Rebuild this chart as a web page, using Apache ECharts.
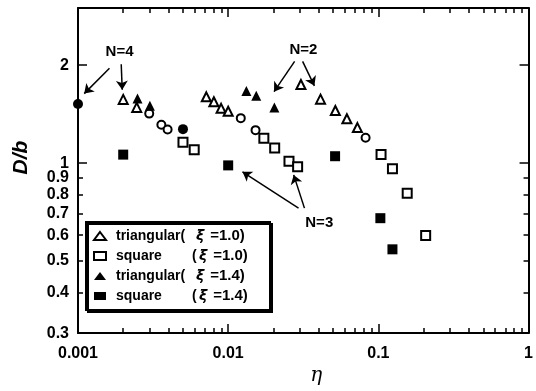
<!DOCTYPE html>
<html>
<head>
<meta charset="utf-8">
<script src="https://cdn.jsdelivr.net/npm/echarts@6/dist/echarts.min.js"></script>
<style>html,body{margin:0;padding:0;background:#fff}#c{width:536px;height:391px}</style>
</head>
<body>
<div id="c"></div>
<script>
// ---- data ----
const triOpenX = [0.002, 0.00246, 0.00715, 0.00803, 0.00897, 0.0100, 0.0305, 0.0412, 0.0517, 0.0617, 0.0725];
const triOpenY = [1.570, 1.484, 1.599, 1.544, 1.474, 1.444, 1.745, 1.573, 1.451, 1.369, 1.286];
const sqOpenX = [0.005, 0.00594, 0.01728, 0.0204, 0.0254, 0.0290, 0.1042, 0.1241, 0.1556, 0.2065];
const sqOpenY = [1.159, 1.100, 1.192, 1.112, 1.014, 0.975, 1.062, 0.961, 0.808, 0.599];
const triFillX = [0.00249, 0.00301, 0.01322, 0.01538, 0.0203];
const triFillY = [1.580, 1.502, 1.667, 1.610, 1.484];
const sqFillX = [0.002, 0.0100, 0.0515, 0.1031, 0.1241];
const sqFillY = [1.062, 0.984, 1.050, 0.677, 0.543];
const circOpenX = [0.00298, 0.00359, 0.00395, 0.01213, 0.01521, 0.0822];
const circOpenY = [1.420, 1.313, 1.268, 1.375, 1.263, 1.197];
const circFillX = [0.001, 0.005];
const circFillY = [1.52, 1.272];

const seriesNames = ['triangular (ξ=1.0)', 'square (ξ=1.0)', 'triangular (ξ=1.4)', 'square (ξ=1.4)'];

// tick values
const xMajorTicks = [0.001, 0.01, 0.1, 1];
const xMinorTicks = [0.002,0.003,0.004,0.005,0.006,0.007,0.008,0.009,
                     0.02,0.03,0.04,0.05,0.06,0.07,0.08,0.09,
                     0.2,0.3,0.4,0.5,0.6,0.7,0.8,0.9];
const yTickLabels = [0.3, 0.4, 0.5, 0.6, 0.7, 0.8, 0.9, 1, 2];
const yMajorTicks = [1, 2];
const yMinorTicks = [0.4, 0.5, 0.6, 0.7, 0.8, 0.9];

// annotations (data coordinates)
const annoTexts = [
  {text: 'N=4', at: [0.00189, 2.204]},
  {text: 'N=2', at: [0.0317, 2.234]},
  {text: 'N=3', at: [0.0404, 0.655]}
];
const annoArrows = [
  [[0.00162, 1.959], [0.00110, 1.636]],
  [[0.00194, 2.014], [0.00197, 1.682]],
  [[0.0277, 2.056], [0.0202, 1.659]],
  [[0.0313, 2.056], [0.0375, 1.729]],
  [[0.0322, 0.727], [0.0273, 0.920]],
  [[0.0294, 0.727], [0.01245, 0.940]]
];

const zip = (xs, ys) => xs.map((x, i) => [x, ys[i]]);
const FONT = 'Liberation Sans';

const chart = echarts.init(document.getElementById('c'), null, {renderer: 'canvas'});

function xAxisDef(pos, ticks, len, showLine, showLabel) {
  return {
    type: 'log', min: 0.001, max: 1, position: pos,
    axisLine: {show: showLine, lineStyle: {color: '#000', width: 2, opacity: 1}},
    axisTick: {show: true, inside: true, length: len, customValues: ticks, lineStyle: {color: '#000', width: 1.5}},
    axisLabel: showLabel ? {show: true, customValues: xMajorTicks, color: '#000', fontFamily: FONT, fontWeight: 'bold', fontSize: 16, margin: 12,
      formatter: v => String(+(+v).toPrecision(3))} : {show: false},
    splitLine: {show: false}, minorTick: {show: false}
  };
}
function yAxisDef(pos, ticks, len, showLine, showLabel) {
  return {
    type: 'log', min: 0.3, max: 3, position: pos,
    axisLine: {show: showLine, lineStyle: {color: '#000', width: 2, opacity: 1}},
    axisTick: {show: true, inside: true, length: len, customValues: ticks, lineStyle: {color: '#000', width: 1.5}},
    axisLabel: showLabel ? {show: true, customValues: yTickLabels, color: '#000', fontFamily: FONT, fontWeight: 'bold', fontSize: 16, margin: 9,
      formatter: v => String(+(+v).toPrecision(3))} : {show: false},
    splitLine: {show: false}, minorTick: {show: false}
  };
}

const xAxes = [
  xAxisDef('bottom', xMajorTicks, 9, true, true),
  xAxisDef('bottom', xMinorTicks, 5, false, false),
  xAxisDef('top', xMajorTicks, 9, true, false),
  xAxisDef('top', xMinorTicks, 5, false, false)
];
Object.assign(xAxes[0], {name: 'η', nameLocation: 'middle', nameGap: 30,
  nameTextStyle: {fontFamily: 'DejaVu Serif', fontStyle: 'italic', fontSize: 20, color: '#000', padding: [0, 0, 0, 26]}});
const yAxes = [
  yAxisDef('left', yMajorTicks, 9, true, true),
  yAxisDef('left', yMinorTicks, 5, false, false),
  yAxisDef('right', yMajorTicks, 9, true, false),
  yAxisDef('right', yMinorTicks, 5, false, false)
];
Object.assign(yAxes[0], {name: 'D/b', nameLocation: 'middle', nameGap: 46, nameRotate: 90,
  nameTextStyle: {fontFamily: FONT, fontStyle: 'italic', fontWeight: 'bold', fontSize: 21, color: '#000', padding: [0, 0, 0, 26]}});

const openStyle = {color: '#fff', borderColor: '#000', borderWidth: 2, opacity: 1};
const fillStyle = {color: '#000', borderColor: '#000', borderWidth: 0, opacity: 1};

const base = {fontFamily: FONT, fontWeight: 'bold', fontSize: 14, color: '#000'};
const legendRich = {
  n: Object.assign({width: 80}, base),
  m: Object.assign({width: 76}, base),
  p: Object.assign({width: 7}, base),
  x: {fontFamily: 'DejaVu Sans', fontStyle: 'italic', fontWeight: 'bold', fontSize: 14, color: '#000', width: 10},
  e: Object.assign({}, base, {width: 52, fontSize: 15}),
  f: Object.assign({}, base, {width: 49, fontSize: 15})
};
const legendFmt = {
  [seriesNames[0]]: '{n|triangular(}{x|ξ}{e| =1.0)}',
  [seriesNames[1]]: '{m|square}{p|(}{x|ξ}{f| =1.0)}',
  [seriesNames[2]]: '{n|triangular(}{x|ξ}{e| =1.4)}',
  [seriesNames[3]]: '{m|square}{p|(}{x|ξ}{f| =1.4)}'
};

chart.setOption({
  animation: false,
  backgroundColor: '#fff',
  grid: {left: 78, right: 1, top: 8, bottom: 50},
  xAxis: xAxes,
  yAxis: yAxes,
  legend: {
    data: seriesNames,
    orient: 'vertical', left: 86, top: 222,
    itemWidth: 12, itemHeight: 8, itemGap: 4,
    padding: [6, 12, 6, 7],
    borderColor: '#000', borderWidth: 2,
    backgroundColor: '#fff',
    shadowColor: '#000', shadowOffsetX: 2, shadowOffsetY: 2, shadowBlur: 0,
    formatter: name => legendFmt[name],
    textStyle: {rich: legendRich, lineHeight: 16, padding: [0, 0, 0, 5]},
    selectedMode: false
  },
  series: [
    {name: seriesNames[0], type: 'scatter', data: zip(triOpenX, triOpenY), symbol: 'triangle', symbolSize: 9, itemStyle: openStyle, clip: false, z: 3},
    {name: seriesNames[1], type: 'scatter', data: zip(sqOpenX, sqOpenY), symbol: 'rect', symbolSize: 9, itemStyle: openStyle, clip: false, z: 3},
    {name: seriesNames[2], type: 'scatter', data: zip(triFillX, triFillY), symbol: 'triangle', symbolSize: 10, itemStyle: fillStyle, clip: false, z: 4},
    {name: seriesNames[3], type: 'scatter', data: zip(sqFillX, sqFillY), symbol: 'rect', symbolSize: 10, itemStyle: fillStyle, clip: false, z: 4},
    {name: 'circle open', type: 'scatter', data: zip(circOpenX, circOpenY), symbol: 'circle', symbolSize: 8, itemStyle: openStyle, clip: false, z: 3},
    {name: 'circle filled', type: 'scatter', data: zip(circFillX, circFillY), symbol: 'circle', symbolSize: 10, itemStyle: fillStyle, clip: false, z: 4,
      markLine: {
        silent: true, symbol: ['none', 'arrow'], symbolSize: 9,
        lineStyle: {color: '#000', width: 1.5, type: 'solid', opacity: 1},
        itemStyle: {color: '#000'},
        label: {show: false},
        data: annoArrows.map(a => [{coord: a[0]}, {coord: a[1]}])
      },
      markPoint: {
        silent: true, symbol: 'rect', symbolSize: 1, itemStyle: {color: 'rgba(0,0,0,0)'},
        label: {show: true, position: 'inside', color: '#000', fontFamily: FONT, fontWeight: 'bold', fontSize: 15, formatter: p => p.name},
        data: annoTexts.map(t => ({name: t.text, coord: t.at}))
      }
    }
  ]
});
</script>
</body>
</html>
